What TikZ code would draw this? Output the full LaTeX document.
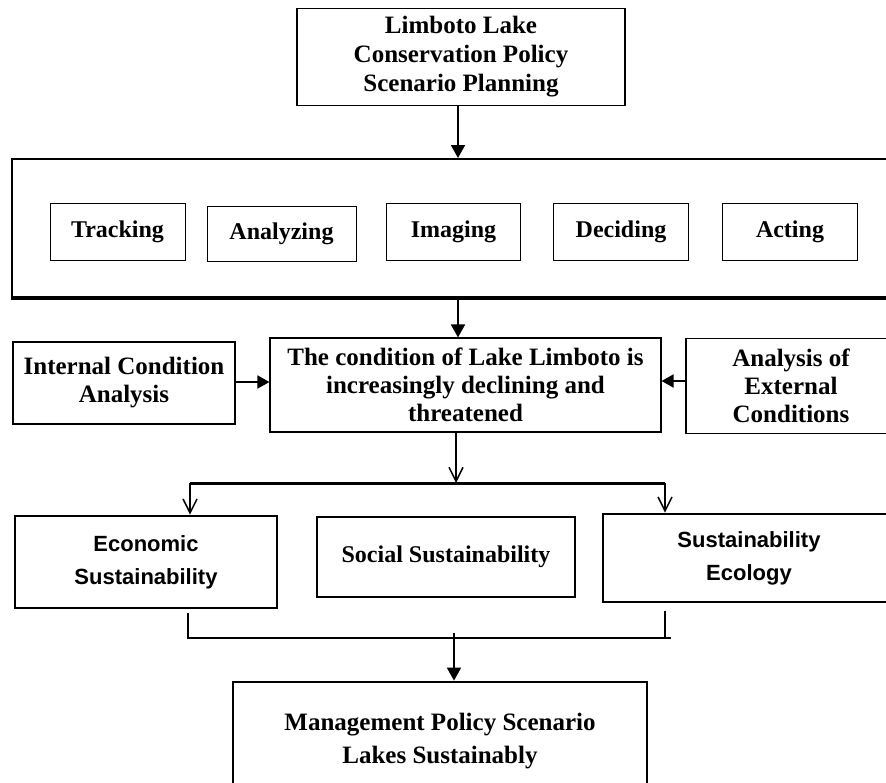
\documentclass[tikz,border=0pt]{standalone}
\usepackage{fontspec}
\setmainfont{Liberation Serif}
\setsansfont{Liberation Sans}
\usetikzlibrary{arrows.meta}
\begin{document}
\begin{tikzpicture}[x=1pt,y=-1pt,
  bigbox/.style={draw, line width=1.2pt, rectangle, inner sep=0pt, align=center,
    font=\bfseries\fontsize{25}{29}\selectfont},
  stepbox/.style={draw, line width=1pt, rectangle, inner sep=0pt, align=center,
    minimum height=57pt, font=\bfseries\fontsize{24}{28}\selectfont},
  midbox/.style={draw, line width=1.1pt, rectangle, inner sep=0pt, align=center,
    font=\bfseries\fontsize{25}{28}\selectfont},
  thickbox/.style={draw, line width=2.8pt, rectangle, inner sep=0pt, align=center},
  sansfont/.style={font=\sffamily\bfseries\fontsize{22}{33}\selectfont},
  seriffont/.style={font=\bfseries\fontsize{24}{28}\selectfont},
  farr/.style={-{Triangle[length=13pt,width=14pt]}, line width=1.8pt},
  sarr/.style={-{Triangle[length=12pt,width=13pt]}, line width=1.8pt},
  varr/.style={-{Straight Barb[length=14pt,width=14pt]}, line width=1.5pt},
  thinline/.style={line width=1.4pt},
  thickline/.style={line width=3pt}]
\useasboundingbox (0,0) rectangle (886,782);
\fill[white] (0,0) rectangle (886,782);
\clip (0,0) rectangle (886,782);

% top box
\node[bigbox, minimum width=328pt, minimum height=97pt] (top) at (461,57)
  {Limboto Lake\\Conservation Policy\\Scenario Planning};

% frame with the five steps
\node[draw, line width=2pt, rectangle, minimum width=884pt, minimum height=138pt] (frame) at (454,228) {};
\draw[line width=3.4pt] (frame.south west) -- (frame.south east);
\node[stepbox, minimum width=135pt] (track) at (117.5,232) {Tracking};
\node[stepbox, minimum width=149pt, minimum height=55pt] (anal) at (281.5,234) {Analyzing};
\node[stepbox, minimum width=134pt] (imag) at (453.5,232) {Imaging};
\node[stepbox, minimum width=135pt] (decid) at (621,232) {Deciding};
\node[stepbox, minimum width=135pt] (act) at (790,232) {Acting};

\coordinate (c1) at (458,0);
\draw[farr] (top.south -| c1) -- (frame.north -| c1);

% middle row
\node[midbox, minimum width=222pt, minimum height=82pt] (int) at (124,383)
  {Internal Condition\\Analysis};
\node[midbox, minimum width=391pt, minimum height=94pt] (cond) at (465.5,385)
  {The condition of Lake Limboto is\\increasingly declining and\\threatened};
\node[midbox, minimum width=210pt, minimum height=95pt] (ext) at (791,386)
  {Analysis of\\External\\Conditions};

\draw[farr] (frame.south -| c1) -- (cond.north -| c1);
\draw[sarr] ([yshift=1pt]int.east) -- ([yshift=1pt]int.east -| cond.west);
\draw[sarr] ([yshift=5pt]ext.west) -- ([yshift=5pt]ext.west -| cond.east);

% split to sustainability boxes
\coordinate (j) at (456,483);
\coordinate (jl) at (190,483);
\coordinate (jr) at (665,483);
\draw[varr] (cond.south -| j) -- (j);
\draw[thickline] (jl) -- (jr);

\node[thickbox, sansfont, minimum width=262pt, minimum height=92pt] (econ) at (146,562)
  {Economic\\Sustainability};
\node[thickbox, seriffont, minimum width=258pt, minimum height=80pt] (soc) at (446,557)
  {Social Sustainability};
\node[thickbox, sansfont, minimum width=292pt, minimum height=88pt] (eco) at (749,558)
  {Sustainability\\Ecology};

\draw[varr] (jl) -- (econ.north -| jl);
\draw[varr] (jr) -- (eco.north -| jr);

% bracket and final arrow
\coordinate (bl) at (188,638);
\coordinate (br) at (665,638);
\draw[thinline] ([yshift=-4pt]econ.south -| bl) -- (bl) -- (br) -- ([yshift=-8pt]eco.south -| br);
\draw[thinline] (br) -- ++(6,0);

\node[thickbox, font=\bfseries\fontsize{25}{33}\selectfont, minimum width=414pt, minimum height=118pt] (final) at (440,741)
  {Management Policy Scenario\\Lakes Sustainably};

\coordinate (ba) at (454,633);
\draw[farr] (ba) -- (final.north -| ba);
\end{tikzpicture}
\end{document}
